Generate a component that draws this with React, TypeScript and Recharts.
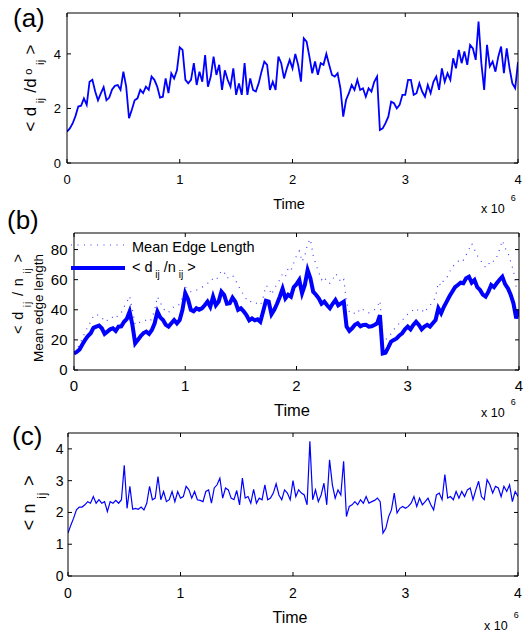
import React from 'react';
import { LineChart, Line, XAxis, YAxis, Legend } from 'recharts';

const FONT = '"Liberation Sans", Arial, Helvetica, sans-serif';
const BLUE = '#0000ff';

// time is in units of 10^6, one sample every 0.025
const TIME_STEP = 0.025;
const TIME_TICKS = [0, 1, 2, 3, 4];
const TICKS_A = [0, 2, 4];
const TICKS_B = [0, 20, 40, 60, 80];
const TICKS_C = [0, 1, 2, 3, 4];

// (a) < d_ij / d°_ij >
const D_RATIO = [
  1.15, 1.27, 1.45, 1.72, 2.07, 2.1, 2.37, 2.13, 2.98, 3.05,
  2.62, 2.3, 2.55, 2.78, 2.3, 2.4, 2.7, 2.83, 2.86, 2.68,
  3.35, 2.8, 1.64, 1.95, 2.3, 2.37, 2.68, 2.56, 2.8, 2.68,
  3.17, 3.05, 2.8, 2.4, 2.43, 3.1, 2.56, 3.29, 3.1, 3.4,
  4.24, 4.15, 3.05, 2.92, 3.05, 3.66, 2.86, 3.35, 2.98, 3.96,
  2.8, 3.17, 3.9, 3.23, 3.6, 2.68, 3.4, 3.05, 2.8, 3.47,
  2.5, 2.92, 2.5, 3.66, 2.5, 3.1, 2.68, 2.62, 2.92, 3.35,
  3.72, 3.6, 2.68, 2.98, 2.68, 3.9, 3.66, 3.1, 3.47, 3.78,
  3.47, 4.0, 3.6, 2.98, 4.57, 4.45, 3.9, 3.29, 3.72, 3.23,
  3.66, 3.6, 4.0, 3.6, 3.23, 3.17, 3.29, 2.74, 1.7, 2.31,
  2.56, 2.86, 2.68, 3.05, 2.68, 2.74, 2.43, 2.74, 2.62, 2.98,
  3.17, 1.21, 1.27, 1.46, 1.7, 2.25, 2.19, 2.0, 2.13, 2.5,
  2.5, 3.05, 3.05, 2.5, 2.56, 2.92, 2.62, 2.43, 2.86, 2.56,
  2.98, 3.17, 2.68, 3.47, 2.98, 3.29, 3.05, 3.84, 3.47, 4.15,
  3.66, 4.09, 3.6, 4.33, 4.2, 3.78, 5.19, 3.66, 2.68, 4.33,
  3.54, 3.72, 3.35, 3.9, 4.27, 3.29, 4.2, 3.47, 2.92, 2.74,
  3.7,
];

// (b) < d_ij / n_ij >
const D_OVER_N = [
  11, 12, 13.7, 17, 20, 22.5, 24.4, 28, 28.8, 29.5,
  27.7, 24, 25.5, 27, 27.7, 26, 28.8, 29, 32, 34,
  38.8, 30, 17.7, 20, 22.6, 24.5, 25.5, 24, 26.6, 31,
  38.8, 35, 33.2, 30, 28.8, 31, 33.2, 31, 33.2, 40,
  51, 47, 40, 39, 41, 40, 41, 43, 45.4, 42,
  48.7, 43, 45.4, 52, 49.8, 44, 44.3, 48, 45.4, 40,
  41, 39, 36.5, 33, 34.3, 33, 33.7, 32, 38.8, 46,
  45.4, 37, 40, 44, 48.7, 54, 47.6, 50, 48.7, 55,
  57, 59.8, 51, 56.5, 66.4, 61, 52, 50, 47.6, 44,
  45.4, 43, 41, 44, 46.5, 43, 44.3, 45.4, 28.8, 26,
  27.7, 30, 31, 29, 29.9, 30, 28.8, 29, 29.9, 31,
  36.5, 11, 11.5, 15, 18.8, 20, 21, 23, 24.4, 27,
  28.8, 27, 29.9, 32, 29.9, 27, 28.8, 30, 28.8, 31,
  33.2, 41, 37.7, 42, 45.4, 49, 52, 55, 56.5, 58,
  57.6, 61, 62, 58, 59.8, 55, 53.2, 50, 48.7, 52,
  56.5, 55, 57.6, 60, 62, 57, 54.3, 50, 44.3, 34.3,
  40,
];

// (b) mean edge length (dotted)
const EDGE_LENGTH = [
  12, 14, 17, 21, 25, 29, 32, 36, 37, 36,
  35, 32, 33, 35, 35, 34, 37, 38, 42, 45,
  49, 40, 30, 31, 32, 33, 33, 32, 34, 40,
  48.7, 45, 41, 39, 38, 41, 42, 42, 44, 48,
  55, 54, 52, 52, 53, 54, 55, 56, 57.6, 58,
  61, 60, 62, 66, 65, 61, 62, 63, 60, 56,
  53, 50, 47, 45, 46, 45, 44, 43, 48, 56,
  55, 50, 54, 57, 60, 64, 62, 67.5, 66, 71,
  76, 79, 72, 76, 84, 87, 76, 70, 65, 60,
  62, 58, 57.6, 60, 64, 62, 58, 60, 45, 38.8,
  37, 38, 40, 38, 40, 39, 38, 39, 40, 42,
  46, 22, 20, 22, 24, 27, 28.8, 31, 33, 35,
  37, 38, 40, 41, 39, 40, 38, 41, 43, 45,
  48.7, 58, 56, 60, 61, 65, 68.7, 70, 72, 74,
  73, 76.4, 80, 84, 80, 76, 73, 71, 68, 70,
  73, 72, 75, 80, 86, 81, 78, 72, 66, 55,
  56,
];

// (c) < n_ij >
const N_IJ = [
  1.35, 1.6, 1.82, 2.08, 2.17, 2.17, 2.24, 2.34, 2.29, 2.5,
  2.29, 2.4, 2.29, 2.34, 2.03, 2.34, 2.29, 2.38, 2.29, 2.4,
  3.48, 2.13, 2.82, 2.1, 2.13, 2.1, 2.17, 2.08, 2.29, 2.82,
  2.4, 2.45, 3.13, 2.4, 2.66, 2.34, 2.4, 2.66, 2.34, 2.66,
  2.45, 2.5, 2.82, 2.71, 2.45, 2.66, 2.4, 2.38, 2.34, 2.66,
  2.71, 2.29, 2.77, 2.87, 3.08, 2.45, 2.77, 2.71, 2.45, 2.4,
  2.69, 2.24, 3.08, 2.45, 2.5, 2.29, 2.73, 2.29, 2.45, 2.4,
  2.87, 2.4, 2.45, 2.61, 2.9, 2.55, 2.4, 2.71, 2.61, 2.4,
  3.0, 2.5, 2.71, 2.61, 2.55, 2.24, 4.24, 2.4, 2.71, 2.34,
  2.55, 2.92, 2.24, 3.66, 2.87, 2.45, 2.71, 2.55, 3.61, 1.87,
  2.19, 2.24, 2.34, 2.24, 2.4, 2.29, 2.5, 2.29, 2.34, 2.38,
  2.45, 2.34, 1.35, 1.5, 1.87, 2.08, 2.61, 1.98, 2.13, 2.19,
  2.13, 2.19, 2.29, 2.5, 2.19, 2.45, 2.24, 2.34, 2.45, 2.24,
  2.08, 2.55, 2.61, 2.4, 3.19, 2.45, 2.5, 2.4, 2.66, 2.45,
  2.66, 2.5, 2.71, 2.77, 2.4, 2.71, 2.98, 2.5, 2.4, 3.03,
  2.87, 2.61, 2.82, 2.77, 2.5, 2.82, 2.66, 2.87, 2.34, 2.66,
  2.5,
];

const timeAt = (i: number) => Math.round(i * TIME_STEP * 1000) / 1000;
const dataA = D_RATIO.map((v, i) => ({ t: timeAt(i), v }));
const dataB = D_OVER_N.map((v, i) => ({ t: timeAt(i), dn: v, edge: EDGE_LENGTH[i] }));
const dataC = N_IJ.map((v, i) => ({ t: timeAt(i), v }));

const txt = { fill: '#000', fontFamily: FONT } as const;

// matlab-like box: ticks pointing inward on all four sides.
// top/right axes need a size >0 or recharts skips drawing them
function boxAxes(o: {
  yDomain: [number, number];
  yTicks: number[];
  fontSize: number;
  xTickMargin: number;
  yTickMargin: number;
  yWidth: number;
  xLabel: () => React.ReactElement;
  yLabel: () => React.ReactElement;
}) {
  const tick = { ...txt, fontSize: o.fontSize };
  const line = { stroke: '#000', strokeWidth: 1 };
  return [
    <XAxis key="xb" dataKey="t" type="number" domain={[0, 4]} ticks={TIME_TICKS} allowDataOverflow
      interval={0} tickSize={-4} tickMargin={o.xTickMargin} tick={tick} axisLine={line} tickLine={line}
      height={30} label={o.xLabel} />,
    <XAxis key="xt" xAxisId="top" orientation="top" dataKey="t" type="number" domain={[0, 4]}
      ticks={TIME_TICKS} allowDataOverflow interval={0} tickSize={-4} tickFormatter={() => ''}
      axisLine={line} tickLine={line} height={1} />,
    <YAxis key="yl" type="number" domain={o.yDomain} ticks={o.yTicks} allowDataOverflow interval={0}
      tickSize={-4} tickMargin={o.yTickMargin} tick={tick} axisLine={line} tickLine={line}
      width={o.yWidth} label={o.yLabel} />,
    <YAxis key="yr" yAxisId="right" orientation="right" type="number" domain={o.yDomain} ticks={o.yTicks}
      allowDataOverflow interval={0} tickSize={-4} tickFormatter={() => ''} axisLine={line}
      tickLine={line} width={1} />,
  ];
}

const timeLabel = (x: number, y: number, size: number) => () => (
  <text x={x} y={y} textAnchor="middle" fontSize={size} {...txt}>Time</text>
);

const yLabelA = () => (
  <text x={36} y={88} transform="rotate(-90 36 88)" textAnchor="middle" fontSize={17}
    textLength={87} lengthAdjust="spacing" {...txt}>
    <tspan>{'< d'}</tspan>
    <tspan fontSize={11} dy={8}>{' ij'}</tspan>
    <tspan dy={-8}>{' /d'}</tspan>
    <tspan fontSize={11} dy={-4}>{' o'}</tspan>
    <tspan fontSize={11} dy={12}>{' ij'}</tspan>
    <tspan dy={-8}>{' >'}</tspan>
  </text>
);

const yLabelB = () => (
  <g>
    <text x={23} y={94} transform="rotate(-90 23 94)" textAnchor="middle" fontSize={14.5}
      textLength={80} lengthAdjust="spacing" {...txt}>
      <tspan>{'< d'}</tspan>
      <tspan fontSize={10} dy={8}>{' ij'}</tspan>
      <tspan dy={-8}>{' / n'}</tspan>
      <tspan fontSize={10} dy={8}>{' ij'}</tspan>
      <tspan dy={-8}>{' >'}</tspan>
    </text>
    <text x={43} y={108} transform="rotate(-90 43 108)" textAnchor="middle" fontSize={13.5} {...txt}>
      Mean edge length
    </text>
  </g>
);

const yLabelC = () => (
  <text x={35} y={83} transform="rotate(-90 35 83)" textAnchor="middle" fontSize={18}
    textLength={55} lengthAdjust="spacing" {...txt}>
    <tspan>{'< n'}</tspan>
    <tspan fontSize={12} dy={11}>{' ij'}</tspan>
    <tspan dy={-11}>{' >'}</tspan>
  </text>
);

const legendB = () => (
  <svg width={200} height={50} style={{ display: 'block', overflow: 'visible' }}>
    <line x1={11} x2={65} y1={15} y2={15} stroke={BLUE} strokeWidth={1.2} strokeDasharray="1 5.5" opacity={0.75} />
    <text x={72} y={21.5} fontSize={14.5} {...txt}>Mean Edge Length</text>
    <line x1={11} x2={65} y1={38} y2={38} stroke={BLUE} strokeWidth={4} />
    <text x={72} y={42} fontSize={14.5} {...txt}>
      <tspan>{'< d'}</tspan>
      <tspan fontSize={10} dy={6}>{' ij'}</tspan>
      <tspan dy={-6}>{' /n'}</tspan>
      <tspan fontSize={10} dy={6}>{' ij'}</tspan>
      <tspan dy={-6}>{' >'}</tspan>
    </text>
  </svg>
);

const scale = (x: number, y: number) => (
  <text x={x} y={y} fontSize={12.5} {...txt}>
    x 10
    <tspan fontSize={9} dx={6} dy={-12}>6</tspan>
  </text>
);

export default function App() {
  return (
    <div style={{ position: 'absolute', left: 0, top: 0, width: 527, height: 634, background: '#fff' }}>
      <div style={{ position: 'absolute', left: 0, top: 0 }}>
        <LineChart width={527} height={220} data={dataA} margin={{ top: 12, right: 8, bottom: 27, left: 27 }}>
          {boxAxes({
            yDomain: [0, 5.5], yTicks: TICKS_A, fontSize: 13, xTickMargin: 16, yTickMargin: 10,
            yWidth: 40, xLabel: timeLabel(289, 209, 14.5), yLabel: yLabelA,
          })}
          <Line type="linear" dataKey="v" stroke={BLUE} strokeWidth={1.8} dot={false} isAnimationActive={false} />
        </LineChart>
      </div>

      <div style={{ position: 'absolute', left: 0, top: 200 }}>
        <LineChart width={527} height={220} data={dataB} margin={{ top: 32, right: 7, bottom: 20, left: 29 }}>
          {boxAxes({
            yDomain: [0, 91], yTicks: TICKS_B, fontSize: 15, xTickMargin: 14, yTickMargin: 10.5,
            yWidth: 45, xLabel: timeLabel(292, 216, 16.5), yLabel: yLabelB,
          })}
          <Line type="linear" dataKey="edge" name="Mean Edge Length" stroke={BLUE} strokeOpacity={0.75}
            strokeWidth={1.2} strokeDasharray="1 5.5" dot={false} isAnimationActive={false} />
          <Line type="linear" dataKey="dn" name="< d_ij /n_ij >" stroke={BLUE} strokeWidth={4}
            dot={false} isAnimationActive={false} />
          <Legend layout="horizontal" verticalAlign="middle" align="center" content={legendB}
            wrapperStyle={{ left: 60, top: 30, width: 200, height: 50 }} />
        </LineChart>
      </div>

      <div style={{ position: 'absolute', left: 0, top: 420 }}>
        <LineChart width={527} height={214} data={dataC} margin={{ top: 12, right: 8, bottom: 28, left: 28 }}>
          {boxAxes({
            yDomain: [0, 4.5], yTicks: TICKS_C, fontSize: 14, xTickMargin: 16, yTickMargin: 8.5,
            yWidth: 40, xLabel: timeLabel(290, 203, 16), yLabel: yLabelC,
          })}
          <Line type="linear" dataKey="v" stroke={BLUE} strokeWidth={1.2} dot={false} isAnimationActive={false} />
        </LineChart>
      </div>

      {/* panel letters and axis exponents */}
      <svg width={527} height={634} style={{ position: 'absolute', left: 0, top: 0, pointerEvents: 'none' }}>
        <text x={13} y={26.5} fontSize={26} {...txt}>(a)</text>
        <text x={7} y={228.5} fontSize={26} {...txt}>(b)</text>
        <text x={12} y={444.5} fontSize={26} {...txt}>(c)</text>
        {scale(481, 213)}
        {scale(481, 417)}
        {scale(484, 630)}
      </svg>
    </div>
  );
}
